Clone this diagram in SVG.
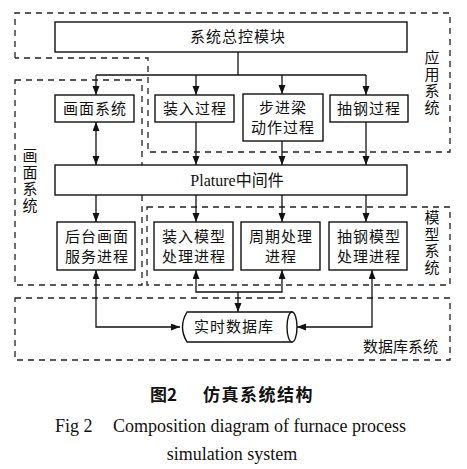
<svg xmlns="http://www.w3.org/2000/svg" width="467" height="469" viewBox="0 0 467 469">
<style>
.box{fill:#fff;stroke:#111;stroke-width:1.4}
.dash{fill:none;stroke:#222;stroke-width:1.3;stroke-dasharray:6 5}
.ln{fill:none;stroke:#111;stroke-width:1.3}
.t{font-family:"Liberation Serif","Noto Sans CJK SC",serif;font-size:15px;fill:#111;text-anchor:middle;letter-spacing:1px}
.lab{font-family:"Noto Sans CJK SC",sans-serif;font-size:15px;fill:#111;text-anchor:middle}
.vlab{font-family:"Noto Sans CJK SC",sans-serif;font-size:15px;fill:#111;writing-mode:vertical-rl;letter-spacing:1.5px}
.cap{font-family:"Noto Sans CJK SC",sans-serif;font-size:17px;font-weight:bold;fill:#111}
.en{font-family:"Liberation Serif",serif;font-size:18px;fill:#111}
</style>
<defs>
<marker id="ah" markerUnits="userSpaceOnUse" markerWidth="10" markerHeight="8" refX="9" refY="3.5" orient="auto-start-reverse">
<path d="M0,0 L9,3.5 L0,7 z" fill="#111"/>
</marker>
</defs>
<rect width="467" height="469" fill="#fff"/>

<g id="regions">
<path class="dash" d="M15,58 L15,13 L450,13 L450,152 L148,152 L148,58 L15,58"/>
<path class="dash" d="M15,80 L142,80 L142,285 L15,285 Z"/>
<rect class="dash" x="147" y="207" width="303" height="78"/>
<rect class="dash" x="15" y="298" width="435" height="62"/>
</g>

<g id="region-labels">
<text class="vlab" x="432" y="50">应用系统</text>
<text class="vlab" x="30" y="148">画面系统</text>
<text class="vlab" x="432" y="210">模型系统</text>
<text class="lab" x="438" y="352" style="text-anchor:end">数据库系统</text>
</g>

<g id="connectors">
<path class="ln" d="M238,52 L238,75"/>
<path class="ln" d="M96,75 L366,75"/>
<path class="ln" d="M96,75 L96,95" marker-end="url(#ah)"/>
<path class="ln" d="M196,75 L196,95" marker-end="url(#ah)"/>
<path class="ln" d="M282,75 L282,94" marker-end="url(#ah)"/>
<path class="ln" d="M366,75 L366,95" marker-end="url(#ah)"/>
<path class="ln" d="M96,122 L96,165" marker-start="url(#ah)" marker-end="url(#ah)"/>
<path class="ln" d="M196,122 L196,165" marker-end="url(#ah)"/>
<path class="ln" d="M282,141 L282,165" marker-end="url(#ah)"/>
<path class="ln" d="M366,122 L366,165" marker-end="url(#ah)"/>
<path class="ln" d="M96,195 L96,222" marker-end="url(#ah)"/>
<path class="ln" d="M196,195 L196,222" marker-end="url(#ah)"/>
<path class="ln" d="M282,195 L282,222" marker-end="url(#ah)"/>
<path class="ln" d="M366,195 L366,222" marker-end="url(#ah)"/>
<path class="ln" d="M96,270 L96,327 L180,327" marker-start="url(#ah)" marker-end="url(#ah)"/>
<path class="ln" d="M196,270 L196,292 L282,292 L282,270" marker-start="url(#ah)" marker-end="url(#ah)"/>
<path class="ln" d="M238,292 L238,312" marker-end="url(#ah)"/>
<path class="ln" d="M372,270 L372,327 L297,327" marker-start="url(#ah)" marker-end="url(#ah)"/>
</g>

<g id="n-master"><rect class="box" x="55" y="22" width="352" height="30"/><text class="t" x="238" y="42">系统总控模块</text></g>
<g id="n-screen"><rect class="box" x="55" y="95" width="79" height="27"/><text class="t" x="95" y="114">画面系统</text></g>
<g id="n-load"><rect class="box" x="155" y="95" width="79" height="27"/><text class="t" x="195" y="114">装入过程</text></g>
<g id="n-beam"><rect class="box" x="243" y="94" width="80" height="47"/><text class="t" x="283" y="113">步进梁</text><text class="t" x="283" y="133">动作过程</text></g>
<g id="n-extract"><rect class="box" x="330" y="95" width="78" height="27"/><text class="t" x="369" y="114">抽钢过程</text></g>
<g id="n-plature"><rect class="box" x="55" y="165" width="352" height="30"/><text class="t" x="237" y="186" style="letter-spacing:0;font-size:16px">Plature中间件</text></g>
<g id="n-bgscreen"><rect class="box" x="57" y="222" width="78" height="48"/><text class="t" x="97" y="242">后台画面</text><text class="t" x="97" y="262">服务进程</text></g>
<g id="n-loadmodel"><rect class="box" x="154" y="222" width="79" height="48"/><text class="t" x="194" y="242">装入模型</text><text class="t" x="194" y="262">处理进程</text></g>
<g id="n-cycle"><rect class="box" x="241" y="222" width="79" height="48"/><text class="t" x="281" y="242">周期处理</text><text class="t" x="281" y="262">进程</text></g>
<g id="n-extractmodel"><rect class="box" x="329" y="222" width="78" height="48"/><text class="t" x="369" y="242">抽钢模型</text><text class="t" x="369" y="262">处理进程</text></g>
<g id="n-rtdb">
<path class="box" d="M187,312 L292,312 L292,342 L187,342 Q178,327 187,312 Z"/>
<ellipse class="box" cx="292" cy="327" rx="5" ry="15"/>
<text class="t" x="234" y="332">实时数据库</text>
</g>

<g id="caption">
<text class="cap" x="150" y="401">图2</text>
<text class="cap" x="203" y="401" style="letter-spacing:1.5px">仿真系统结构</text>
<text class="en" x="55" y="432">Fig 2</text>
<text class="en" x="113" y="432">Composition diagram of furnace process</text>
<text class="en" x="232" y="460" style="text-anchor:middle">simulation system</text>
</g>
</svg>
